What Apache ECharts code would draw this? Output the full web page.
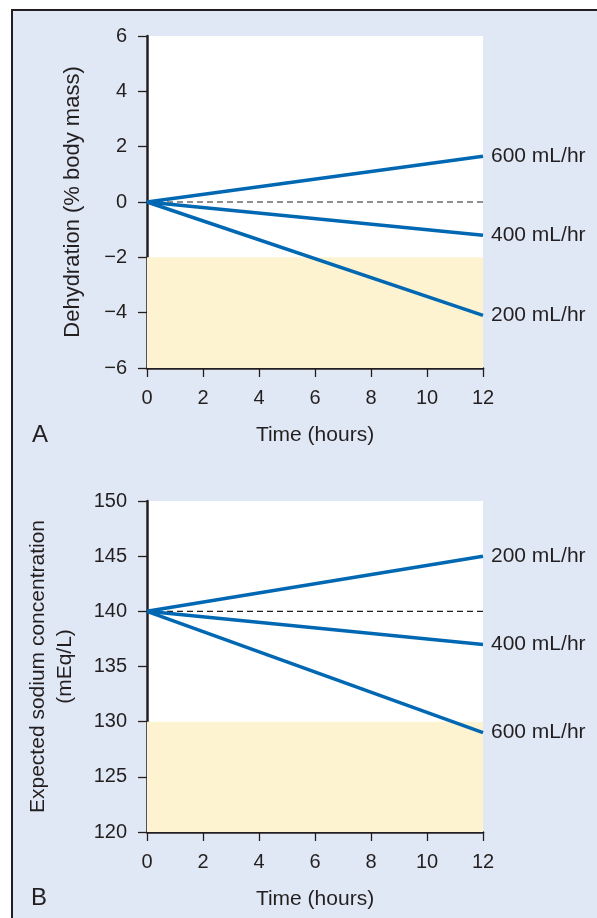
<!DOCTYPE html>
<html>
<head>
<meta charset="utf-8">
<script src="https://cdn.jsdelivr.net/npm/echarts@6/dist/echarts.min.js"></script>
<style>
html,body{margin:0;padding:0;background:#fff;}
#c{width:597px;height:918px;}
</style>
</head>
<body>
<div id="c"></div>
<script>
// Shared x axis
const hours = [0, 12];
const xTicks = [0, 2, 4, 6, 8, 10, 12];

// Panel A: dehydration (% body mass)
const rateNamesA = ['600 mL/hr', '400 mL/hr', '200 mL/hr'];
const dehydrationA = [
  [0, 1.65],
  [0, -1.2],
  [0, -4.1]
];
const baselineA = [0, 0];
const bandA = [-2, -6];

// Panel B: expected sodium concentration (mEq/L)
const rateNamesB = ['200 mL/hr', '400 mL/hr', '600 mL/hr'];
const sodiumB = [
  [140, 145],
  [140, 137],
  [140, 129]
];
const baselineB = [140, 140];
const bandB = [130, 120];

const ink = '#231F20';
const blue = '#0068B3';
const font = 'Liberation Sans, Arial, sans-serif';
const fs = 20;
const fsT = 21;

const chart = echarts.init(document.getElementById('c'), null, {renderer: 'canvas'});

function xAxisFor(gi) {
  return {
    type: 'value', gridIndex: gi, min: 0, max: 12, interval: 2,
    name: 'Time (hours)', nameLocation: 'middle', nameGap: 57,
    nameTextStyle: {color: ink, fontSize: fsT, fontFamily: font},
    axisLine: {show: true, onZero: false, lineStyle: {color: ink, width: 2.5}},
    axisTick: {show: true, length: 9, lineStyle: {color: ink, width: 1.3}},
    axisLabel: {color: ink, fontSize: fs, fontFamily: font, margin: 20},
    splitLine: {show: false}
  };
}

function lineSeries(name, vals, xi) {
  return {
    type: 'line', name: name, xAxisIndex: xi, yAxisIndex: xi,
    data: hours.map((h, i) => [h, vals[i]]),
    symbol: 'none', silent: true,
    lineStyle: {color: blue, width: 3.5},
    endLabel: {show: true, formatter: name, color: ink, fontSize: fsT, fontFamily: font, distance: 8}
  };
}

const series = [];
series.push({
  type: 'line', xAxisIndex: 0, yAxisIndex: 0, symbol: 'none', silent: true,
  data: hours.map((h, i) => [h, baselineA[i]]),
  lineStyle: {color: ink, width: 1.2, type: [6, 4]},
  markArea: {silent: true, itemStyle: {color: '#FDF3D1'}, data: [[{yAxis: bandA[0]}, {yAxis: bandA[1]}]]},
  z: 1
});
series.push({
  type: 'line', xAxisIndex: 1, yAxisIndex: 1, symbol: 'none', silent: true,
  data: hours.map((h, i) => [h, baselineB[i]]),
  lineStyle: {color: ink, width: 1.2, type: [6, 4]},
  markArea: {silent: true, itemStyle: {color: '#FDF3D1'}, data: [[{yAxis: bandB[0]}, {yAxis: bandB[1]}]]},
  z: 1
});
rateNamesA.forEach((n, i) => series.push(lineSeries(n, dehydrationA[i], 0)));
rateNamesB.forEach((n, i) => series.push(lineSeries(n, sodiumB[i], 1)));

chart.setOption({
  animation: false,
  backgroundColor: '#ffffff',
  graphic: [
    {type: 'rect', z: -10, shape: {x: 12, y: 10, width: 600, height: 920},
     style: {fill: '#E1E8F5', stroke: ink, lineWidth: 2}},
    {type: 'text', left: 32, top: 423, style: {text: 'A', fill: ink, fontSize: 24, fontFamily: font}},
    {type: 'text', left: 31, top: 886, style: {text: 'B', fill: ink, fontSize: 24, fontFamily: font}}
  ],
  grid: [
    {left: 147, top: 36, width: 336, height: 332, show: true, backgroundColor: '#ffffff', borderWidth: 0},
    {left: 147, top: 501, width: 336, height: 331, show: true, backgroundColor: '#ffffff', borderWidth: 0}
  ],
  xAxis: [xAxisFor(0), xAxisFor(1)],
  yAxis: [
    {
      type: 'value', gridIndex: 0, min: -6, max: 6, interval: 2,
      name: 'Dehydration (% body mass)', nameLocation: 'middle', nameGap: 63,
      nameTextStyle: {color: ink, fontSize: 22, fontFamily: font},
      axisLine: {show: true, onZero: false, lineStyle: {color: ink, width: 2.5}},
      axisTick: {show: true, length: 9, lineStyle: {color: ink, width: 1.3}},
      axisLabel: {color: ink, fontSize: fs, fontFamily: font, margin: 20,
        formatter: v => (v < 0 ? '\u2212' + Math.abs(v) : String(v))},
      splitLine: {show: false}
    },
    {
      type: 'value', gridIndex: 1, min: 120, max: 150, interval: 5,
      name: 'Expected sodium concentration\n(mEq/L)', nameLocation: 'middle', nameGap: 68,
      nameTextStyle: {color: ink, fontSize: fsT, fontFamily: font, lineHeight: 27},
      axisLine: {show: true, onZero: false, lineStyle: {color: ink, width: 2.5}},
      axisTick: {show: true, length: 9, lineStyle: {color: ink, width: 1.3}},
      axisLabel: {color: ink, fontSize: fs, fontFamily: font, margin: 20},
      splitLine: {show: false}
    }
  ],
  series: series
});
</script>
</body>
</html>
